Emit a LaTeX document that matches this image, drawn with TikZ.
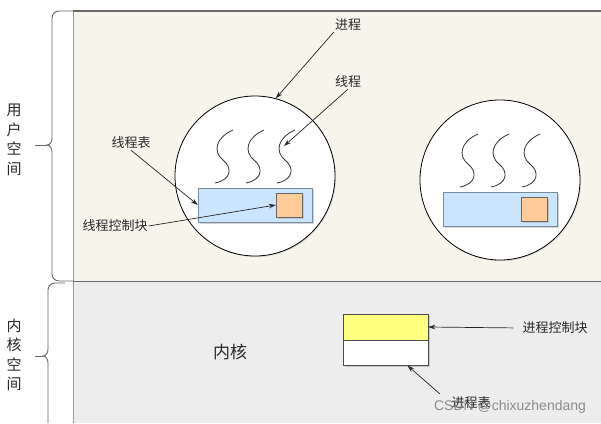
\documentclass[tikz,border=0pt]{standalone}
\usepackage{fontspec}
\newfontfamily\cjk{Noto Sans CJK SC}
\newfontfamily\wmfont{Liberation Sans}
\usetikzlibrary{arrows.meta, calc, shadows}
\definecolor{userbg}{RGB}{247, 244, 236}
\definecolor{kernbg}{RGB}{237, 237, 237}
\definecolor{edgegray}{RGB}{105, 105, 105}
\definecolor{tabblue}{RGB}{204, 229, 255}
\definecolor{tabedge}{RGB}{120, 140, 160}
\definecolor{tcborange}{RGB}{255, 204, 153}
\definecolor{pcbyellow}{RGB}{255, 255, 128}
\definecolor{textgray}{RGB}{40, 40, 40}

\begin{document}
\begin{tikzpicture}[x=1pt, y=-1pt,
  lbl/.style={font=\cjk\fontsize{13}{15}\selectfont, text=textgray, inner sep=1pt},
  side/.style={font=\cjk\fontsize{15}{19.5}\selectfont, text=textgray, align=center, inner sep=0pt},
  ptr/.style={-{Stealth[length=7pt, width=4.5pt]}, line width=0.7pt, black!85},
  brc/.style={line width=0.9pt, black!60},
  boxshadow/.style={drop shadow={shadow xshift=1.5pt, shadow yshift=-1.5pt, fill=black!35}}]
  \useasboundingbox (0,0) rectangle (601,423);

  % Spaces
  \fill[userbg] (73,11) rectangle (601,281);
  \fill[kernbg] (73,281) rectangle (601,423);
  \draw[black!40, line width=1pt] (73,11) -- (73,423);
  \draw[edgegray, line width=2pt] (73,11) -- (601,11);
  \draw[edgegray, line width=0.8pt] (73,281) -- (601,281);

  % Braces
  \draw[brc] (73,11) -- (59,11) to[out=180,in=90] (52,18) -- (52,138)
    to[out=-90,in=0] (47,145) to[out=0,in=90] (52,152) -- (52,274)
    to[out=-90,in=180] (59,281) -- (73,281);
  \draw[brc] (47,145) -- (35,145);
  \draw[brc] (65,283) -- (55,283) to[out=180,in=90] (48,290) -- (48,349)
    to[out=-90,in=0] (43,356) to[out=0,in=90] (48,363) -- (48,423);
  \draw[brc] (43,356) -- (35,356);
  \node[side] (luser) at (14,140) {用\\户\\空\\间};
  \node[side] (lkern) at (14,355) {内\\核\\空\\间};

  % Processes
  \foreach \i/\dx/\dy in {1/0/0, 2/245/4} {
    \node[draw, circle, fill=white, minimum size=160pt, inner sep=0pt, line width=0.8pt,
      drop shadow={shadow xshift=1.2pt, shadow yshift=-1.2pt, fill=black!20}] (circ\i) at (255+\dx,176+\dy) {};
    \foreach \sx in {0,31,62}
      \draw[line width=0.8pt, black!80, shift={(\sx+\dx,\dy)}] (233,130)
        .. controls (215,138) and (213,152) .. (223,160)
        .. controls (233,168) and (231,180) .. (215,183);
    \node[draw=tabedge, fill=tabblue, minimum width=114pt, minimum height=34pt, inner sep=0pt, boxshadow] (ttab\i) at (255+\dx,205+\dy) {};
    \node[draw=black!60, fill=tcborange, minimum width=26pt, minimum height=24pt, inner sep=0pt, boxshadow] (tcb\i) at (289+\dx,205+\dy) {};
  }
  \coordinate (thr) at (284,146);

  % Kernel
  \node[lbl, font=\cjk\fontsize{17}{20}\selectfont] (kern) at (230,352) {内核};
  \node[draw=black!70, fill=pcbyellow, minimum width=85pt, minimum height=26pt, inner sep=0pt, boxshadow] (pcb) at (385.5,327) {};
  \node[draw=black!70, fill=white, minimum width=85pt, minimum height=25pt, inner sep=0pt, anchor=north, boxshadow] (ptab) at (pcb.south) {};

  % Labels
  \node[lbl] (lproc) at (348,25) {进程};
  \node[lbl] (lthr) at (348,82) {线程};
  \node[lbl] (lttab) at (131,143) {线程表};
  \node[lbl] (ltcb) at (115,226) {线程控制块};
  \node[lbl] (lpcb) at (555,328) {进程控制块};
  \node[lbl] (lptab) at (471,403) {进程表};

  \draw[ptr] (lproc.south west) -- (circ1.75);
  \draw[ptr] (lthr.south) -- (thr);
  \draw[ptr] (lttab.south) -- (ttab1.west);
  \draw[ptr] (ltcb.east) -- (tcb1.west);
  \draw[ptr, shorten <=8pt] (lpcb.west) -- (pcb.east);
  \draw[ptr, shorten <=14pt] (lptab.west) -- (ptab.-30);

  % Watermark
  \node[font=\wmfont\fontsize{14}{16}\selectfont, text=black!55, opacity=0.8] (wmark) at (510,407) {CSDN @chixuzhendang};
\end{tikzpicture}
\end{document}
